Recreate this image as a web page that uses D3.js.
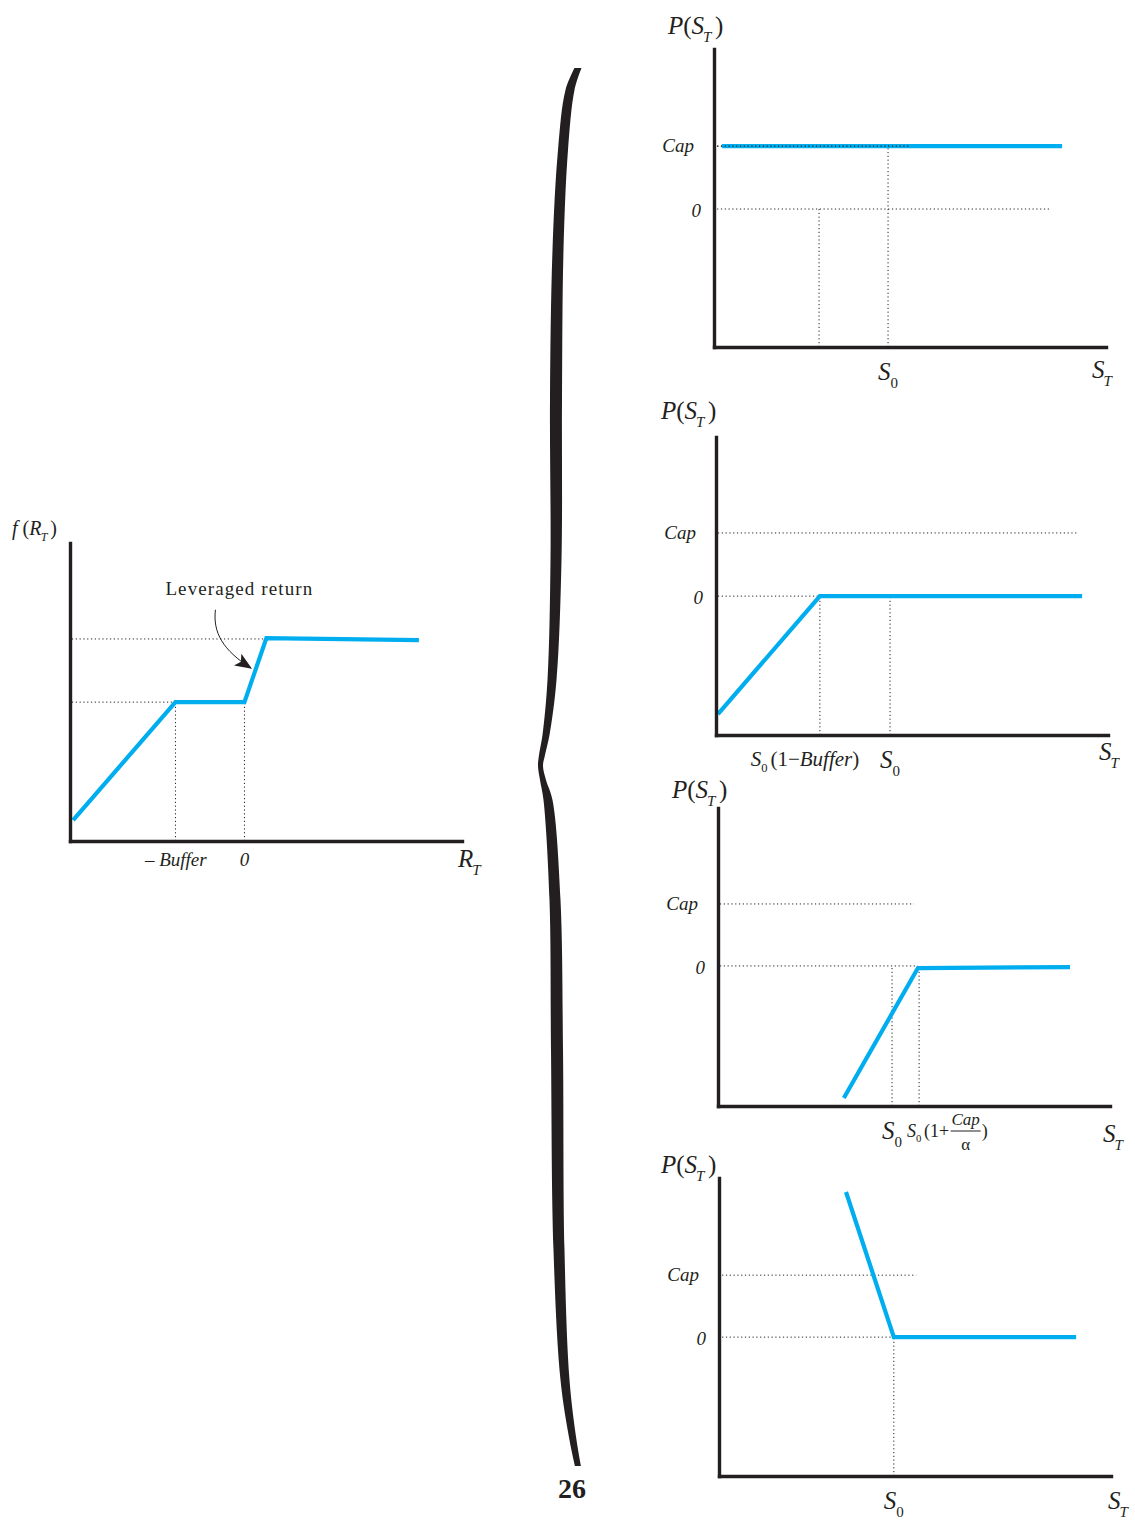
<!DOCTYPE html>
<html>
<head>
<meta charset="utf-8">
<title>Buffered payoffs</title>
<script src="https://d3js.org/d3.v7.min.js"></script>
<style>
  body { margin: 0; background: #fff; }
  text { font-family: "Liberation Serif", "DejaVu Serif", serif; fill: #231f20; }
</style>
</head>
<body>
<script>
// every chart uses axis units 0..100 on both axes
// payoff lines [x, y]
var leftPayoff   = [[0.8, 7.0], [26.9, 46.6], [44.5, 46.6], [50.1, 68.1], [89.0, 67.4]];
var capPayoff    = [[2.0, 67.4], [88.8, 67.4]];
var bufferPayoff = [[0.5, 7.0], [26.5, 46.6], [93.4, 46.6]];
var shortPayoff  = [[32.1, 2.7], [51.0, 46.3], [89.8, 46.6]];
var putPayoff    = [[32.4, 95.3], [44.6, 46.6], [91.1, 46.6]];

// dotted guides [x1, y1, x2, y2]
var leftGuides   = [[0.5, 46.6, 26.9, 46.6], [0.5, 67.8, 50.0, 67.8], [26.9, 0, 26.9, 46.6], [44.5, 0, 44.5, 46.6]];
var capGuides    = [[0.8, 67.4, 50.0, 67.4], [0.8, 46.3, 85.7, 46.3], [26.8, 0, 26.8, 46.3], [44.4, 0, 44.4, 67.4]];
var bufferGuides = [[0.5, 67.8, 92.3, 67.8], [0.5, 46.6, 26.5, 46.6], [26.5, 0, 26.5, 46.6], [44.4, 0, 44.4, 46.6]];
var shortGuides  = [[0.5, 67.8, 50.0, 67.8], [0.5, 47.0, 51.0, 47.0], [44.4, 0, 44.4, 47.0], [51.3, 0, 51.3, 46.3]];
var putGuides    = [[0.8, 67.4, 50.3, 67.4], [0.8, 46.6, 44.0, 46.6], [44.6, 0, 44.6, 46.6]];

// tick labels. tokens: "*x" italic, "_x" italic subscript, ".x" upright subscript, else upright
var capTicks     = [{v: 67.4, label: ["*Cap"]}, {v: 46.3, label: ["*0"]}];
var bufferYTicks = [{v: 67.8, label: ["*Cap"]}, {v: 46.6, label: ["*0"]}];
var shortYTicks  = [{v: 67.8, label: ["*Cap"]}, {v: 47.0, label: ["*0"]}];
var putYTicks    = [{v: 67.4, label: ["*Cap"]}, {v: 46.6, label: ["*0"]}];

var capXTicks    = [{v: 44.4, label: ["*S", ".0"]}];
var bufferXTicks = [{v: 22.7, label: ["*S", ".0", "(1\u2212", "*Buffer", ")"], size: 21}, {v: 44.4, label: ["*S", ".0"]}];
var shortXTicks  = [{v: 44.4, label: ["*S", ".0"]}];
var putXTicks    = [{v: 44.6, label: ["*S", ".0"]}];
var leftXTicks   = [{v: 27.0, label: ["\u2013 ", "*Buffer"], size: 19}, {v: 44.5, label: ["*0"], size: 19}];

var yTitle = ["*P", "(", "*S", "_T", ")"];
var xTitle = ["*S", "_T"];
var leftYTitle = ["*f", " (", "*R", "_T", ")"];
var leftXTitle = ["*R", "_T"];
var note = "Leveraged return";
var pageNo = "26";

var blue = "#00aeef", ink = "#231f20";

var svg = d3.select("body").append("svg")
  .attr("width", 1135).attr("height", 1520);

svg.append("defs").append("marker")
  .attr("id", "head")
  .attr("markerUnits", "userSpaceOnUse")
  .attr("markerWidth", 18).attr("markerHeight", 14)
  .attr("refX", 16).attr("refY", 7)
  .attr("orient", "auto")
  .append("path")
  .attr("d", "M0,0 L17,7 L0,14 L4,7 Z")
  .attr("fill", ink);

function mathText(sel, tokens, size) {
  var t = sel.append("text").attr("font-size", size);
  var shifted = 0, prevSub = false;
  tokens.forEach(function(tok) {
    var c = tok[0];
    var sub = c === "_" || c === ".";
    var ital = c === "*" || c === "_";
    var s = (sub || c === "*") ? tok.slice(1) : tok;
    var off = sub ? size * 0.3 : 0;
    t.append("tspan")
      .text(s)
      .attr("dy", off - shifted)
      .attr("dx", (prevSub && !sub) ? size * 0.14 : (c === "_" ? -size * 0.04 : 0))
      .attr("font-style", ital ? "italic" : "normal")
      .attr("font-size", sub ? size * 0.6 : size);
    shifted = off;
    prevSub = sub;
  });
  return t;
}

var panels = [
  {x0: 70,  bottom: 841,  payoff: leftPayoff,   guides: leftGuides,   yTicks: [],           xTicks: leftXTicks,
   ytitle: leftYTitle, ytSize: 20, ytPos: [-58, -8], xtitle: leftXTitle, xtPos: [-4, 26]},
  {x0: 714, bottom: 347,  payoff: capPayoff,    guides: capGuides,    yTicks: capTicks,     xTicks: capXTicks,
   ytitle: yTitle, ytSize: 25, ytPos: [-46, -15], xtitle: xTitle, xtPos: [-14, 31]},
  {x0: 716, bottom: 735,  payoff: bufferPayoff, guides: bufferGuides, yTicks: bufferYTicks, xTicks: bufferXTicks,
   ytitle: yTitle, ytSize: 25, ytPos: [-55, -18], xtitle: xTitle, xtPos: [-9, 25]},
  {x0: 718, bottom: 1106, payoff: shortPayoff,  guides: shortGuides,  yTicks: shortYTicks,  xTicks: shortXTicks,
   ytitle: yTitle, ytSize: 25, ytPos: [-46, -10], xtitle: xTitle, xtPos: [-7, 36], fraction: 51.3},
  {x0: 719, bottom: 1476, payoff: putPayoff,    guides: putGuides,    yTicks: putYTicks,    xTicks: putXTicks,
   ytitle: yTitle, ytSize: 25, ytPos: [-58, -5], xtitle: xTitle, xtPos: [-3, 33]}
];

panels.forEach(function(p, i) {
  var x = d3.scaleLinear().domain([0, 100]).range([p.x0, p.x0 + 392]);
  var y = d3.scaleLinear().domain([0, 100]).range([p.bottom, p.bottom - 298]);
  var g = svg.append("g");

  // dotted guides
  g.selectAll(".guide").data(p.guides).enter().append("line")
    .attr("x1", function(d) { return x(d[0]); })
    .attr("y1", function(d) { return y(d[1]); })
    .attr("x2", function(d) { return x(d[2]); })
    .attr("y2", function(d) { return y(d[3]); })
    .attr("stroke", ink).attr("stroke-width", 1)
    .attr("stroke-dasharray", "1.2,2.6");

  // payoff
  g.append("path")
    .datum(p.payoff)
    .attr("d", d3.line().x(function(d) { return x(d[0]); }).y(function(d) { return y(d[1]); }))
    .attr("fill", "none").attr("stroke", blue).attr("stroke-width", 4.2)
    .attr("stroke-linejoin", "miter");

  // cap guide sits on top of the blue line in the first panel
  if (i === 1) {
    g.append("line")
      .attr("x1", x(0.8)).attr("x2", x(50)).attr("y1", y(67.4)).attr("y2", y(67.4))
      .attr("stroke", ink).attr("stroke-width", 1.4).attr("stroke-dasharray", "1.2,2.6");
  }

  // axes
  g.append("g").attr("transform", "translate(0," + p.bottom + ")")
    .call(d3.axisBottom(x).tickValues([]).tickSizeOuter(0));
  g.append("g").attr("transform", "translate(" + p.x0 + ",0)")
    .call(d3.axisLeft(y).tickValues([]).tickSizeOuter(0));
  g.selectAll(".domain").attr("stroke", ink).attr("stroke-width", 3.4).attr("stroke-linecap", "square");

  // y tick labels
  p.yTicks.forEach(function(t) {
    var isZero = t.label[0] === "*0";
    mathText(g, t.label, 19)
      .attr("x", p.x0 - (isZero ? 13 : 20)).attr("y", y(t.v) + (isZero ? 8 : 6))
      .attr("text-anchor", "end");
  });

  // x tick labels
  p.xTicks.forEach(function(t) {
    mathText(g, t.label, t.size || 25)
      .attr("x", x(t.v)).attr("y", p.bottom + (t.size === 21 ? 31 : (t.size ? 25 : 33)))
      .attr("text-anchor", "middle");
  });

  // titles
  mathText(g, p.ytitle, p.ytSize)
    .attr("x", p.x0 + p.ytPos[0]).attr("y", y(100) + p.ytPos[1]);
  mathText(g, p.xtitle, 25)
    .attr("x", p.x0 + 392 + p.xtPos[0]).attr("y", p.bottom + p.xtPos[1]);

  // S0(1 + Cap/alpha)
  if (p.fraction) {
    var fx = x(p.fraction) - 12, fy = p.bottom + 31;
    var lead = mathText(g, ["*S", ".0", "(1+"], 18).attr("x", fx).attr("y", fy);
    var w = lead.node().getComputedTextLength();
    var cx = fx + w + 19;
    g.append("text").attr("x", cx).attr("y", fy - 12).attr("text-anchor", "middle")
      .attr("font-size", 17).attr("font-style", "italic").text("Cap");
    g.append("line").attr("x1", cx - 15).attr("x2", cx + 15).attr("y1", fy - 6).attr("y2", fy - 6)
      .attr("stroke", ink).attr("stroke-width", 1);
    g.append("text").attr("x", cx).attr("y", fy + 13).attr("text-anchor", "middle")
      .attr("font-size", 17).text("\u03b1");
    g.append("text").attr("x", cx + 16).attr("y", fy).attr("font-size", 18).text(")");
  }

  // annotation on the left chart
  if (i === 0) {
    g.append("text")
      .attr("x", x(43.2)).attr("y", y(82.4))
      .attr("text-anchor", "middle")
      .attr("font-size", 19).attr("letter-spacing", 1.1)
      .text(note);
    var a = d3.path();
    a.moveTo(x(37.1), y(77.6));
    a.bezierCurveTo(x(36.4), y(70), x(39), y(64), x(46.2), y(58.0));
    g.append("path").attr("d", a.toString())
      .attr("fill", "none").attr("stroke", ink).attr("stroke-width", 1)
      .attr("marker-end", "url(#head)");
  }
});

// curly brace joining the two sides
var brace = [
  [578, 68, 3.5], [570, 90, 4.5], [563, 150, 5], [558, 250, 5.5], [556, 400, 6],
  [556, 560, 5.5], [552, 680, 4.5], [546, 735, 3.5], [542, 755, 3], [540.5, 766, 2.5],
  [543, 780, 3], [548, 800, 4.5], [555, 900, 5.5], [557, 1050, 6], [559, 1250, 5.5],
  [565, 1380, 4.5], [573, 1440, 3.5], [578, 1466, 3]
];
svg.append("path")
  .datum(brace)
  .attr("d", d3.area()
    .y(function(d) { return d[1]; })
    .x0(function(d) { return d[0] - d[2]; })
    .x1(function(d) { return d[0] + d[2]; })
    .curve(d3.curveCatmullRom))
  .attr("fill", ink);

svg.append("text")
  .attr("x", 572).attr("y", 1498)
  .attr("text-anchor", "middle")
  .attr("font-size", 28).attr("font-weight", "bold")
  .text(pageNo);
</script>
</body>
</html>
